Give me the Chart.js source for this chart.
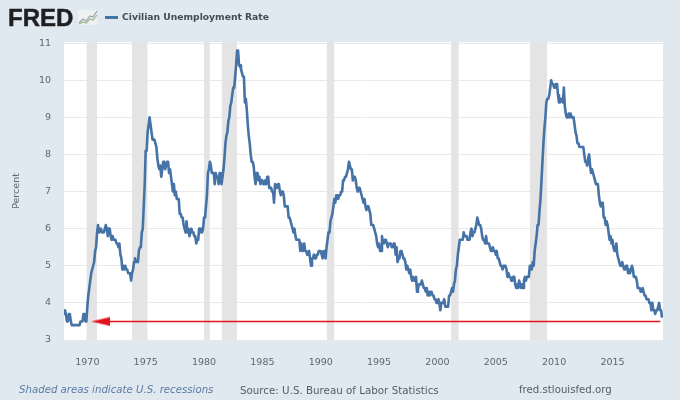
<!DOCTYPE html>
<html><head><meta charset="utf-8">
<script src="https://cdn.jsdelivr.net/npm/chart.js@4"></script>
<style>
html,body{margin:0;padding:0;background:#e1e9f0;width:680px;height:400px;overflow:hidden}
#wrap{position:relative;width:680px;height:400px;font-family:"DejaVu Sans",sans-serif;filter:blur(0.35px)}
canvas#c{position:absolute;left:0;top:0}
.t{position:absolute;white-space:nowrap}
</style></head><body>
<div id="wrap">
<canvas id="c" width="680" height="400"></canvas>
<div class="t" style="left:8px;top:4px;font:bold 24px/28px 'Liberation Sans',sans-serif;color:#1f1f22;-webkit-text-stroke:0.5px #1f1f22">FRED</div>
<svg class="t" style="left:78px;top:9px" width="20" height="17"><rect x="0" y="1" width="19" height="15" fill="#eef1f2"/><polyline points="1,14 5,10 8,12 12,7 15,8 19,2" fill="none" stroke="#9a9fa5" stroke-width="1.2"/><polyline points="1,15 5,13 8,14 12,10 15,11 19,6" fill="none" stroke="#9db98c" stroke-width="1.2"/></svg>
<div class="t" style="left:105px;top:16px;width:13px;height:3px;background:#4572a7"></div>
<div class="t" style="left:122px;top:9px;font:bold 9.2px/15px 'DejaVu Sans',sans-serif;color:#454b52" id="lg">Civilian Unemployment Rate</div>
<div class="t" style="left:19px;top:383px;font:italic 10.2px/14px 'DejaVu Sans',sans-serif;color:#5b7ba3">Shaded areas indicate U.S. recessions</div>
<div class="t" style="left:240px;top:383px;font:10.3px/14px 'DejaVu Sans',sans-serif;color:#555c63">Source: U.S. Bureau of Labor Statistics</div>
<div class="t" style="left:519px;top:383px;font:10.2px/14px 'DejaVu Sans',sans-serif;color:#555c63">fred.stlouisfed.org</div>
</div>
<script>
const startYear = 1968;
const unrate = [
3.7,3.8,3.7,3.5,3.5,3.7,3.7,3.5,3.4,3.4,3.4,3.4,
3.4,3.4,3.4,3.4,3.4,3.5,3.5,3.5,3.7,3.7,3.5,3.5,
3.9,4.2,4.4,4.6,4.8,4.9,5.0,5.1,5.4,5.5,5.9,6.1,
5.9,5.9,6.0,5.9,5.9,5.9,6.0,6.1,6.0,5.8,6.0,6.0,
5.8,5.7,5.8,5.7,5.7,5.7,5.6,5.6,5.5,5.6,5.3,5.2,
4.9,5.0,4.9,5.0,4.9,4.9,4.8,4.8,4.8,4.6,4.8,4.9,
5.1,5.2,5.1,5.1,5.1,5.4,5.5,5.5,5.9,6.0,6.6,7.2,
8.1,8.1,8.6,8.8,9.0,8.8,8.6,8.4,8.4,8.4,8.3,8.2,
7.9,7.7,7.6,7.7,7.4,7.6,7.8,7.8,7.6,7.7,7.8,7.8,
7.5,7.6,7.4,7.2,7.0,7.2,6.9,7.0,6.8,6.8,6.8,6.4,
6.4,6.3,6.3,6.1,6.0,5.9,6.2,5.9,6.0,5.8,5.9,6.0,
5.9,5.9,5.8,5.8,5.6,5.7,5.7,6.0,5.9,6.0,5.9,6.0,
6.3,6.3,6.3,6.9,7.5,7.6,7.8,7.7,7.5,7.5,7.5,7.2,
7.5,7.4,7.4,7.2,7.5,7.5,7.2,7.4,7.6,7.9,8.3,8.5,
8.6,8.9,9.0,9.3,9.4,9.6,9.8,9.8,10.1,10.4,10.8,10.8,
10.4,10.4,10.3,10.2,10.1,10.1,9.4,9.5,9.2,8.8,8.5,8.3,
8.0,7.8,7.8,7.7,7.4,7.2,7.5,7.5,7.3,7.4,7.2,7.3,
7.3,7.2,7.2,7.3,7.2,7.4,7.4,7.1,7.1,7.1,7.0,7.0,
6.7,7.2,7.2,7.1,7.2,7.2,7.0,6.9,7.0,7.0,6.9,6.6,
6.6,6.6,6.6,6.3,6.3,6.2,6.1,6.0,5.9,6.0,5.8,5.7,
5.7,5.7,5.7,5.4,5.6,5.4,5.4,5.6,5.4,5.4,5.3,5.3,
5.4,5.2,5.0,5.2,5.2,5.3,5.2,5.2,5.3,5.3,5.4,5.4,
5.4,5.3,5.2,5.4,5.4,5.2,5.5,5.7,5.9,5.9,6.2,6.3,
6.4,6.6,6.8,6.7,6.9,6.9,6.8,6.9,6.9,7.0,7.0,7.3,
7.3,7.4,7.4,7.4,7.6,7.8,7.7,7.6,7.6,7.3,7.4,7.4,
7.3,7.1,7.0,7.1,7.1,7.0,6.9,6.8,6.7,6.8,6.6,6.5,
6.6,6.6,6.5,6.4,6.1,6.1,6.1,6.0,5.9,5.8,5.6,5.5,
5.6,5.4,5.4,5.8,5.6,5.6,5.7,5.7,5.6,5.5,5.6,5.6,
5.6,5.5,5.5,5.6,5.6,5.3,5.5,5.1,5.2,5.2,5.4,5.4,
5.3,5.2,5.2,5.1,4.9,5.0,4.9,4.8,4.9,4.7,4.6,4.7,
4.6,4.6,4.7,4.3,4.4,4.5,4.5,4.5,4.6,4.5,4.4,4.4,
4.3,4.4,4.2,4.3,4.2,4.3,4.3,4.2,4.2,4.1,4.1,4.0,
4.0,4.1,4.0,3.8,4.0,4.0,4.0,4.1,3.9,3.9,3.9,3.9,
4.2,4.2,4.3,4.4,4.3,4.5,4.6,4.9,5.0,5.3,5.5,5.7,
5.7,5.7,5.7,5.9,5.8,5.8,5.8,5.7,5.7,5.7,5.9,6.0,
5.8,5.9,5.9,6.0,6.1,6.3,6.2,6.1,6.1,6.0,5.8,5.7,
5.7,5.6,5.8,5.6,5.6,5.6,5.5,5.4,5.4,5.5,5.4,5.4,
5.3,5.4,5.2,5.2,5.1,5.0,5.0,4.9,5.0,5.0,5.0,4.9,
4.7,4.8,4.7,4.7,4.6,4.6,4.7,4.7,4.5,4.4,4.5,4.4,
4.6,4.5,4.4,4.5,4.4,4.6,4.7,4.6,4.7,4.7,4.7,5.0,
5.0,4.9,5.1,5.0,5.4,5.6,5.8,6.1,6.1,6.5,6.8,7.3,
7.8,8.3,8.7,9.0,9.4,9.5,9.5,9.6,9.8,10.0,9.9,9.9,
9.8,9.8,9.9,9.9,9.6,9.4,9.4,9.5,9.5,9.4,9.8,9.3,
9.1,9.0,9.0,9.1,9.0,9.1,9.0,9.0,9.0,8.8,8.6,8.5,
8.3,8.3,8.2,8.2,8.2,8.2,8.2,8.0,7.8,7.8,7.7,7.9,
8.0,7.7,7.5,7.6,7.5,7.5,7.3,7.2,7.2,7.2,6.9,6.7,
6.6,6.7,6.7,6.3,6.3,6.1,6.2,6.1,5.9,5.7,5.8,5.6,
5.7,5.5,5.4,5.4,5.6,5.3,5.2,5.1,5.0,5.0,5.1,5.0,
4.9,4.9,5.0,5.0,4.8,4.9,4.8,4.9,5.0,4.9,4.7,4.7,
4.7,4.6,4.4,4.4,4.4,4.3,4.3,4.4,4.3,4.2,4.2,4.1,
4.1,4.1,4.0,4.0,3.8,4.0,3.8,3.8,3.7,3.8,3.8,3.9,
4.0,3.8,3.8,3.6
];
const recessionStart = [1969.92,1973.83,1980.0,1981.5,1990.5,2001.17,2007.92];
const recessionEnd   = [1970.83,1975.17,1980.5,1982.83,1991.17,2001.83,2009.42];
const xTicks = [1970,1975,1980,1985,1990,1995,2000,2005,2010,2015];
const yTicks = [3,4,5,6,7,8,9,10,11];
const yMax = 11.03;
const arrowLevel = 3.5;
const arrowFrom = 1971.15;
const arrowTo = 2019.1;
const seriesName = 'Civilian Unemployment Rate';

const arrowHead = document.createElement('canvas');
arrowHead.width = 19; arrowHead.height = 10;
(function(){const g=arrowHead.getContext('2d');g.fillStyle='#e3141c';g.beginPath();g.moveTo(0,5);g.lineTo(19,0.5);g.lineTo(19,9.5);g.closePath();g.fill();})();

const recessionSets = recessionStart.map((s,i)=>({
  label:'Recession '+(i+1),
  data:[{x:s,y:yMax},{x:recessionEnd[i],y:yMax}],
  borderWidth:0,pointRadius:0,backgroundColor:'#e4e4e4',fill:'origin',order:5
}));
const plotBg = {id:'plotBg',beforeDraw(ch){const a=ch.chartArea;ch.ctx.save();ch.ctx.fillStyle='#fff';ch.ctx.fillRect(a.left,a.top,a.width,a.height);ch.ctx.restore();}};

new Chart(document.getElementById('c'),{
  type:'line',
  plugins:[plotBg],
  data:{datasets:[
    ...recessionSets,
    {label:seriesName,data:unrate.map((v,i)=>({x:startYear+i/12,y:v})),borderColor:'#4572a7',borderWidth:2.6,pointRadius:0,tension:0,fill:false,order:2,borderJoinStyle:'round'},
    {label:'Current level',data:[{x:arrowFrom,y:arrowLevel},{x:arrowTo,y:arrowLevel}],borderColor:'#e3141c',borderWidth:1.6,fill:false,order:1,
     pointStyle:[arrowHead,false],pointRadius:[9,0],pointBackgroundColor:'#e3141c',pointBorderWidth:0}
  ]},
  options:{
    responsive:false,animation:false,
    layout:{padding:{top:42,right:17,left:0,bottom:0}},
    plugins:{legend:{display:false},tooltip:{enabled:false},title:{display:false}},
    scales:{
      x:{type:'linear',min:startYear,max:2019.33,
        grid:{display:false},border:{display:false},
        afterBuildTicks(a){a.ticks=xTicks.map(v=>({value:v}));},
        afterFit(a){a.height=60;},
        ticks:{autoSkip:false,maxRotation:0,padding:9,color:'#5d666e',font:{family:'DejaVu Sans',size:9.5},callback:v=>String(v)}},
      y:{min:3,max:yMax,
        grid:{color:'#e9e9e9',lineWidth:1,drawTicks:false},border:{display:false},
        afterBuildTicks(a){a.ticks=yTicks.map(v=>({value:v}));},
        afterFit(a){a.width=64;},
        title:{display:true,text:'Percent',color:'#5d666e',font:{family:'DejaVu Sans',size:9.5},padding:{top:11,bottom:0}},
        ticks:{padding:13,color:'#5d666e',font:{family:'DejaVu Sans',size:9.5},callback:v=>String(v)}}
    }
  }
});
</script>
</body></html>
